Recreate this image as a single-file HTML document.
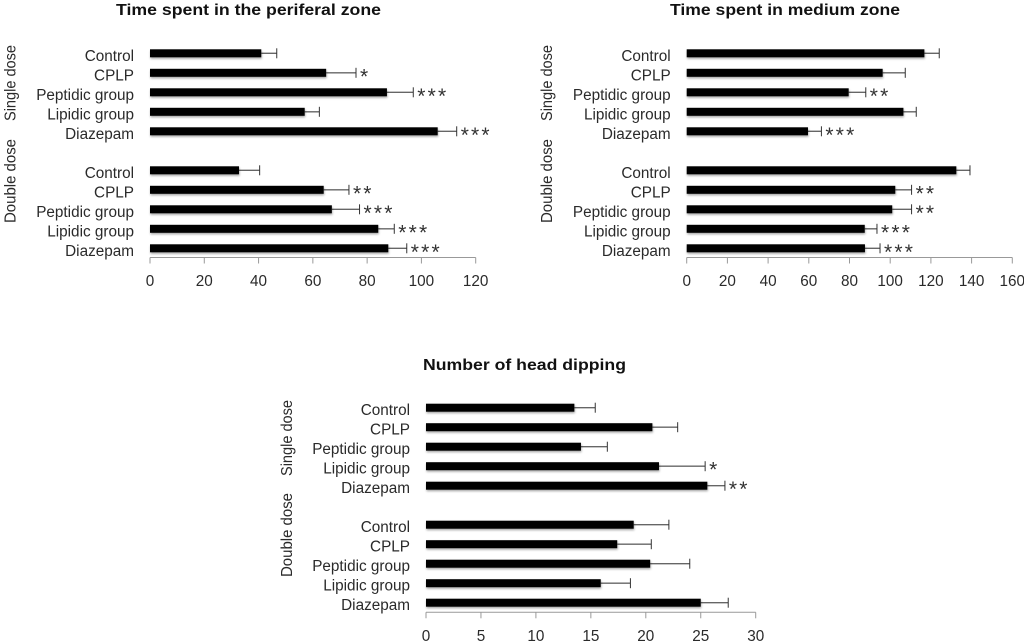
<!DOCTYPE html>
<html lang="en">
<head>
<meta charset="utf-8">
<title>Anxiety test charts</title>
<style>
html,body{margin:0;padding:0;background:#fff;width:1024px;height:642px;overflow:hidden}
svg{display:block;font-family:"Liberation Sans",sans-serif;filter:blur(.35px)}
.title{font-weight:700;font-size:16px;fill:#111}
.cat{font-size:15.3px;fill:#2a2a2a;text-anchor:end}
.tick{font-size:15.3px;fill:#2a2a2a;text-anchor:middle}
.dose{font-size:15.3px;fill:#2a2a2a}
.star{font-size:21px;fill:#333;letter-spacing:2.2px}
</style>
</head>
<body>
<svg id="figure" width="1024" height="642" viewBox="0 0 1024 642" xmlns="http://www.w3.org/2000/svg">
<defs>
<filter id="barShadow" x="-5%" y="-50%" width="110%" height="250%">
<feDropShadow dx="0.5" dy="1.5" stdDeviation="1" flood-color="#000" flood-opacity="0.35"/>
</filter>
</defs>
<text class="title" x="116" y="15" textLength="265" lengthAdjust="spacingAndGlyphs">Time spent in the periferal zone</text>
<text class="title" x="670" y="15" textLength="230" lengthAdjust="spacingAndGlyphs">Time spent in medium zone</text>
<text class="title" x="423" y="370" textLength="203" lengthAdjust="spacingAndGlyphs">Number of head dipping</text>
<g id="chart1"></g>
<g id="chart2"></g>
<g id="chart3"></g>
</svg>
<script>
const categories = ['Control','CPLP','Peptidic group','Lipidic group','Diazepam','Control','CPLP','Peptidic group','Lipidic group','Diazepam'];

const periferalValues = [41,64.9,87.3,57,106,32.8,64,67,84.1,87.8];
const periferalErrorTops = [46.7,75.9,97,62.4,113,40.4,73.3,77.2,90,94.6];
const periferalStars = ['','*','***','','***','','**','***','***','***'];
const periferalTicks = [0,20,40,60,80,100,120];

const mediumValues = [116.8,96.3,79.6,106.5,59.6,132.5,102.5,101,87.5,87.6];
const mediumErrorTops = [124.1,107.4,88,112.8,66.2,139.2,110.5,110.5,93.5,95];
const mediumStars = ['','','**','','***','','**','**','***','***'];
const mediumTicks = [0,20,40,60,80,100,120,140,160];

const dippingValues = [13.5,20.6,14.1,21.2,25.6,18.9,17.4,20.4,15.9,25];
const dippingErrorTops = [15.4,22.9,16.5,25.4,27.2,22.1,20.5,24,18.6,27.5];
const dippingStars = ['','','','*','**','','','','',''];
const dippingTicks = [0,5,10,15,20,25,30];

const SVG_NS = 'http://www.w3.org/2000/svg';

function make(parent, tag, attrs, text) {
  const el = document.createElementNS(SVG_NS, tag);
  for (const k in attrs) el.setAttribute(k, attrs[k]);
  if (text !== undefined) el.textContent = text;
  parent.appendChild(el);
  return el;
}

function drawChart(id, layout, values, errorTops, stars, ticks) {
  const root = document.getElementById(id);
  const maxTick = ticks[ticks.length - 1];
  const xScale = v => layout.x0 + (v / maxTick) * (layout.x1 - layout.x0);
  const yScale = i => layout.firstY + i * 19.5 + (i >= 5 ? 19.5 : 0);

  const axis = make(root, 'line', {x1: layout.x0, x2: layout.x1, y1: layout.axisY, y2: layout.axisY, stroke: '#999', 'stroke-width': 1});
  
  

  ticks.forEach(t => {
    const tx = xScale(t);
    const mark = make(root, 'line', {x1: tx, x2: tx, y1: layout.axisY, y2: layout.axisY + 6, stroke: '#999', 'stroke-width': 1});
    
    
    const label = make(root, 'text', {class: 'tick', x: tx, y: layout.axisY + 28.5}, String(t));
    
    
  });

  values.forEach((v, i) => {
    const cy = yScale(i);
    const x0 = xScale(0);
    const xv = xScale(v);
    const xe = xScale(errorTops[i]);

    const stem = make(root, 'line', {x1: xv, x2: xe, y1: cy, y2: cy, stroke: '#666', 'stroke-width': 1.4});
    
    

    const cap = make(root, 'line', {x1: xe, x2: xe, y1: cy - 5, y2: cy + 5, stroke: '#333', 'stroke-width': 1});
    
    

    const bar = make(root, 'rect', {x: x0, y: cy - 4, width: xv - x0, height: 8, fill: '#000', filter: 'url(#barShadow)'});
    
    

    const cat = make(root, 'text', {class: 'cat', x: x0 - 16, y: cy + 7.5}, categories[i]);
    
    

    if (stars[i]) {
      const star = make(root, 'text', {class: 'star', x: xe + 4, y: cy + 10.5}, stars[i]);
      
      
    }
  });

  const single = make(root, 'text', {class: 'dose', transform: 'translate(' + layout.doseX + ',' + layout.singleY + ') rotate(-90)', textLength: 76, lengthAdjust: 'spacingAndGlyphs'}, 'Single dose');
  
  

  const dbl = make(root, 'text', {class: 'dose', transform: 'translate(' + layout.doseX + ',' + layout.doubleY + ') rotate(-90)', textLength: 84, lengthAdjust: 'spacingAndGlyphs'}, 'Double dose');
  
  
}

drawChart('chart1', {x0: 150, x1: 475.7, axisY: 257.5, firstY: 53.3, doseX: 15.5, singleY: 121, doubleY: 223}, periferalValues, periferalErrorTops, periferalStars, periferalTicks);
drawChart('chart2', {x0: 686.7, x1: 1012.3, axisY: 257.5, firstY: 53.3, doseX: 552, singleY: 121, doubleY: 223}, mediumValues, mediumErrorTops, mediumStars, mediumTicks);
drawChart('chart3', {x0: 426, x1: 755.7, axisY: 612.3, firstY: 407.7, doseX: 292, singleY: 476, doubleY: 577}, dippingValues, dippingErrorTops, dippingStars, dippingTicks);
</script>
</body>
</html>
